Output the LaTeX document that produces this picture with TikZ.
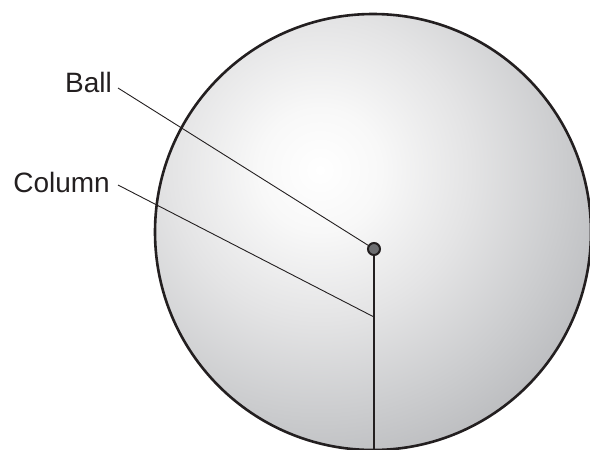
\documentclass[tikz,border=0pt]{standalone}
\usepackage{fontspec}
\setmainfont{Liberation Sans}
\definecolor{ink}{HTML}{231F20}
\definecolor{ballgray}{HTML}{6D6E71}
\definecolor{gA}{HTML}{F8F8F8}
\definecolor{gB}{HTML}{E4E4E5}
\definecolor{gC}{HTML}{CBCCCE}
\definecolor{gD}{HTML}{B6B7BA}
\definecolor{gE}{HTML}{98999D}
\definecolor{gF}{HTML}{828387}
\definecolor{gG}{HTML}{7A7B7F}
\pgfdeclareradialshading{spherelight}{\pgfpoint{0bp}{0bp}}{%
  color(0bp)=(white); color(4.5bp)=(gA); color(11bp)=(gB); color(18bp)=(gC); color(24bp)=(gD); color(32bp)=(gE); color(36bp)=(gF); color(41bp)=(gG); color(50bp)=(gG)}
\begin{document}
\begin{tikzpicture}[x=1pt,y=-1pt,
  label/.style={font=\fontsize{28}{30}\selectfont, text=ink, inner sep=0pt, anchor=base east},
  leader/.style={draw=ink, line width=0.9pt},
  outline/.style={draw=ink, line width=2.6pt},
  column/.style={draw=ink, line width=2.6pt}]
\useasboundingbox (0,0) rectangle (590,450);
\begin{scope}
\clip (0,0) rectangle (590,450);
\begin{scope}
\clip (373,232) circle (218);
\shade[shading=spherelight] (-20,-170) rectangle (660,510);
\end{scope}
\draw[outline] (373,232) circle (218);
\end{scope}
\node[circle, draw=ink, line width=2pt, fill=ballgray, minimum size=12pt, inner sep=0pt] (ball) at (374,249) {};
\coordinate (base) at (374,452);
\coordinate (colpt) at (374,317);
\draw[column] (ball.south) -- (base);
\node[label] (balllabel) at (112,92) {Ball};
\node[label] (collabel) at (110,192) {Column};
\coordinate (bstart) at (118,88);
\coordinate (cstart) at (118,185);
\draw[leader] (bstart) -- (ball);
\draw[leader] (cstart) -- (colpt);
\end{tikzpicture}
\end{document}
